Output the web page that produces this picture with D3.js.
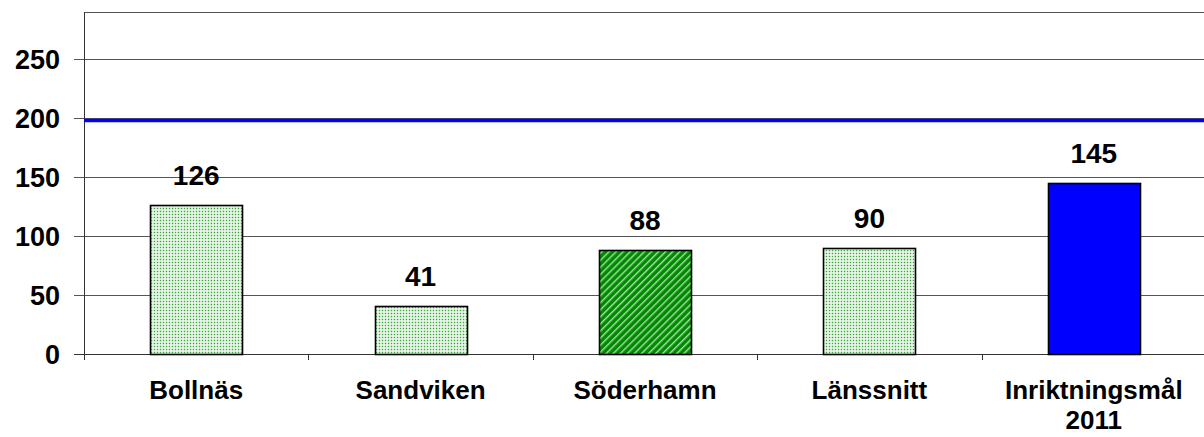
<!DOCTYPE html>
<html>
<head>
<meta charset="utf-8">
<script src="https://cdn.jsdelivr.net/npm/d3@7"></script>
<style>
  body { margin: 0; background: #fff; }
  text { font-family: Arial, "Liberation Sans", sans-serif; font-weight: bold; fill: #000; }
</style>
</head>
<body>
<div id="chart"></div>
<script>
var width = 1204;
var height = 437;

// data
var categories = ["Bollnäs", "Sandviken", "Söderhamn", "Länssnitt", "Inriktningsmål 2011"];
var values = [126, 41, 88, 90, 145];
var fills = ["dots", "dots", "stripes", "dots", "solid"];
var targetValue = 198;
var yTicks = [0, 50, 100, 150, 200, 250];
var yMax = 290;

var margin = { left: 84, top: 12, right: -2, bottom: 83 };
var plotW = width - margin.left - margin.right;
var plotH = height - margin.top - margin.bottom;

var svg = d3.select("#chart").append("svg")
    .attr("width", width)
    .attr("height", height);

var defs = svg.append("defs");

var dots = defs.append("pattern")
    .attr("id", "dots")
    .attr("patternUnits", "userSpaceOnUse")
    .attr("width", 3)
    .attr("height", 3);
dots.append("rect").attr("width", 3).attr("height", 3).attr("fill", "#eef8ee");
dots.append("rect").attr("x", 0.8).attr("y", 0.8).attr("width", 1.4).attr("height", 1.4).attr("fill", "#38a838");

var stripes = defs.append("pattern")
    .attr("id", "stripes")
    .attr("patternUnits", "userSpaceOnUse")
    .attr("width", 5)
    .attr("height", 5)
    .attr("patternTransform", "rotate(45)");
stripes.append("rect").attr("width", 5).attr("height", 5).attr("fill", "#008a00");
stripes.append("rect").attr("x", 0).attr("width", 1.4).attr("height", 5).attr("fill", "#a8e0a8");

var g = svg.append("g")
    .attr("transform", "translate(" + margin.left + "," + margin.top + ")");

var x = d3.scaleBand()
    .domain(categories)
    .range([0, plotW])
    .paddingInner(0.59)
    .paddingOuter(0.295);

var y = d3.scaleLinear()
    .domain([0, yMax])
    .range([plotH, 0]);

// gridlines
g.append("g").selectAll("line")
    .data(yTicks)
    .enter().append("line")
    .attr("x1", -10)
    .attr("x2", plotW)
    .attr("y1", function(d) { return Math.round(y(d)) + 0.5; })
    .attr("y2", function(d) { return Math.round(y(d)) + 0.5; })
    .style("stroke", function(d) { return d === 0 ? "#333" : "#555"; })
    .style("stroke-width", 1);

// frame top + y axis
g.append("line")
    .attr("x1", 0).attr("x2", plotW)
    .attr("y1", 0.5).attr("y2", 0.5)
    .style("stroke", "#555");
g.append("line")
    .attr("x1", 0.5).attr("x2", 0.5)
    .attr("y1", 0).attr("y2", plotH + 6)
    .style("stroke", "#333");

// category boundary ticks
var step = x.step();
g.append("g").selectAll("line")
    .data(categories.slice(1))
    .enter().append("line")
    .attr("x1", function(d) { return Math.round(x(d) - x.paddingInner() * step / 2) + 0.5; })
    .attr("x2", function(d) { return Math.round(x(d) - x.paddingInner() * step / 2) + 0.5; })
    .attr("y1", plotH)
    .attr("y2", plotH + 6)
    .style("stroke", "#333");

// y labels
g.append("g").selectAll("text")
    .data(yTicks)
    .enter().append("text")
    .attr("x", -24)
    .attr("y", function(d) { return y(d); })
    .attr("dy", "0.38em")
    .attr("text-anchor", "end")
    .style("font-size", "27px")
    .text(function(d) { return d; });

// bars
g.append("g").selectAll("rect")
    .data(values)
    .enter().append("rect")
    .attr("x", function(d, i) { return Math.round(x(categories[i])) + 0.5; })
    .attr("y", function(d) { return Math.round(y(d)) + 0.5; })
    .attr("width", Math.round(x.bandwidth()))
    .attr("height", function(d) { return Math.round(y(0)) - Math.round(y(d)); })
    .style("fill", function(d, i) {
        if (fills[i] === "solid") return "#0000ff";
        return "url(#" + fills[i] + ")";
    })
    .style("stroke", "#000")
    .style("stroke-width", 1.6);

// target line
g.append("line")
    .attr("x1", 0).attr("x2", plotW)
    .attr("y1", y(targetValue)).attr("y2", y(targetValue))
    .style("stroke", "#0000ff")
    .style("stroke-width", 3.5);

// value labels
g.append("g").selectAll("text")
    .data(values)
    .enter().append("text")
    .attr("x", function(d, i) { return x(categories[i]) + x.bandwidth() / 2; })
    .attr("y", function(d) { return y(d) - 20; })
    .attr("text-anchor", "middle")
    .style("font-size", "28px")
    .text(function(d) { return d; });

// category labels
var cat = g.append("g").selectAll("text")
    .data(categories)
    .enter().append("text")
    .attr("x", function(d) { return x(d) + x.bandwidth() / 2; })
    .attr("y", plotH + 45)
    .attr("text-anchor", "middle")
    .style("font-size", "26px");

cat.each(function(d) {
    var words = d === "Inriktningsmål 2011" ? ["Inriktningsmål", "2011"] : [d];
    var t = d3.select(this);
    words.forEach(function(w, i) {
        t.append("tspan")
            .attr("x", t.attr("x"))
            .attr("dy", i === 0 ? 0 : 30)
            .text(w);
    });
});
</script>
</body>
</html>
